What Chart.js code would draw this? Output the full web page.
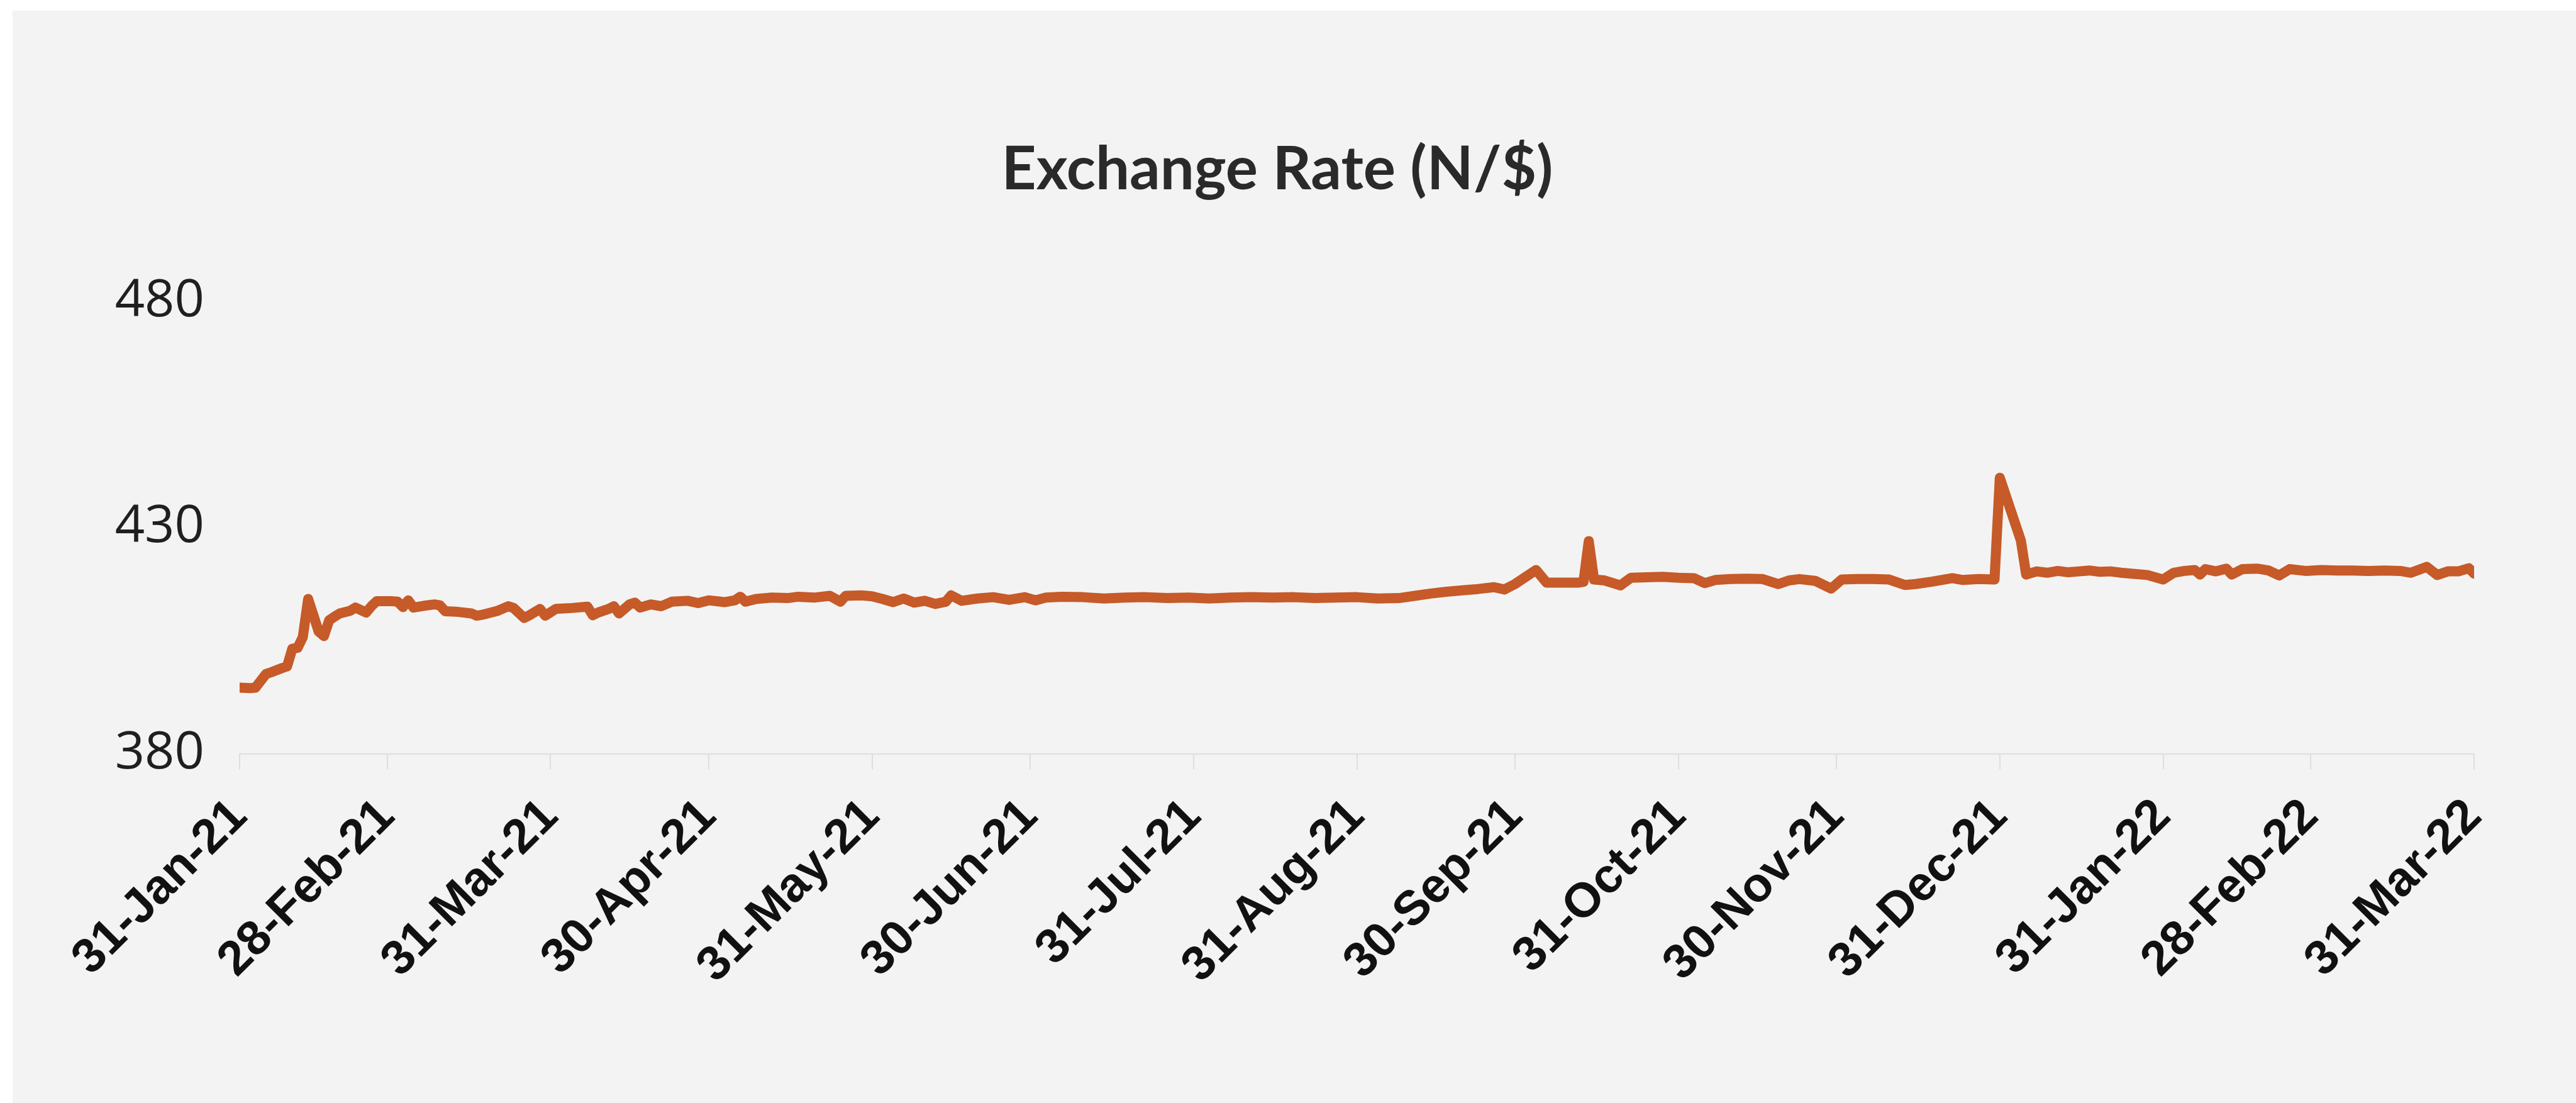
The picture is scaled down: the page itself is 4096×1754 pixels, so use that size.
<!DOCTYPE html>
<html><head><meta charset="utf-8">
<script src="https://cdn.jsdelivr.net/npm/chart.js@4/dist/chart.umd.min.js"></script>
<style>
html,body{margin:0;padding:0;background:#ffffff;overflow:hidden;}
#bg{position:absolute;left:20px;top:17px;width:4076px;height:1737px;background:#f3f3f3;}
#wrap{position:absolute;left:0;top:0;width:4096px;height:1754px;}
</style></head>
<body><div id="bg"></div><div id="wrap"><canvas id="c" width="4096" height="1754"></canvas></div>
<script>
const chartTitle = 'Exchange Rate (N/$)';
const startDate = '2021-01-31';
const tickDates = ['2021-01-31','2021-02-28','2021-03-31','2021-04-30','2021-05-31','2021-06-30','2021-07-31','2021-08-31','2021-09-30','2021-10-31','2021-11-30','2021-12-31','2022-01-31','2022-02-28','2022-03-31'];
const tickLabels = ['31-Jan-21','28-Feb-21','31-Mar-21','30-Apr-21','31-May-21','30-Jun-21','31-Jul-21','31-Aug-21','30-Sep-21','31-Oct-21','30-Nov-21','31-Dec-21','31-Jan-22','28-Feb-22','31-Mar-22'];
const yTicks = [380, 430, 480];

const dates = [
'2021-01-31','2021-02-02','2021-02-03','2021-02-05','2021-02-06','2021-02-08','2021-02-09','2021-02-10','2021-02-11','2021-02-12',
'2021-02-13','2021-02-15','2021-02-16','2021-02-17','2021-02-18','2021-02-19','2021-02-21','2021-02-22','2021-02-24','2021-02-25',
'2021-02-26','2021-03-01','2021-03-02','2021-03-03','2021-03-04','2021-03-05','2021-03-07','2021-03-09','2021-03-10','2021-03-11',
'2021-03-13','2021-03-16','2021-03-17','2021-03-18','2021-03-21','2021-03-23','2021-03-24','2021-03-26','2021-03-27','2021-03-29',
'2021-03-30','2021-04-01','2021-04-04','2021-04-07','2021-04-08','2021-04-09','2021-04-11','2021-04-12','2021-04-13','2021-04-15',
'2021-04-16','2021-04-17','2021-04-19','2021-04-21','2021-04-23','2021-04-26','2021-04-28','2021-04-30','2021-05-03','2021-05-05',
'2021-05-06','2021-05-07','2021-05-09','2021-05-12','2021-05-15','2021-05-17','2021-05-20','2021-05-23','2021-05-25','2021-05-26',
'2021-05-29','2021-05-31','2021-06-02','2021-06-04','2021-06-06','2021-06-08','2021-06-10','2021-06-12','2021-06-14','2021-06-15',
'2021-06-17','2021-06-20','2021-06-23','2021-06-26','2021-06-29','2021-07-01','2021-07-03','2021-07-06','2021-07-10','2021-07-14',
'2021-07-18','2021-07-22','2021-07-26','2021-07-30','2021-08-03','2021-08-07','2021-08-11','2021-08-15','2021-08-19','2021-08-23',
'2021-08-27','2021-08-31','2021-09-04','2021-09-08','2021-09-11','2021-09-14','2021-09-17','2021-09-20','2021-09-23','2021-09-26',
'2021-09-28','2021-09-30','2021-10-04','2021-10-06','2021-10-09','2021-10-12','2021-10-13','2021-10-14','2021-10-15','2021-10-17',
'2021-10-20','2021-10-22','2021-10-25','2021-10-28','2021-10-31','2021-11-03','2021-11-05','2021-11-07','2021-11-10','2021-11-13',
'2021-11-16','2021-11-19','2021-11-21','2021-11-23','2021-11-26','2021-11-29','2021-12-01','2021-12-04','2021-12-07','2021-12-10',
'2021-12-13','2021-12-15','2021-12-18','2021-12-22','2021-12-24','2021-12-27','2021-12-30','2021-12-31','2022-01-04','2022-01-05',
'2022-01-07','2022-01-09','2022-01-11','2022-01-13','2022-01-15','2022-01-17','2022-01-19','2022-01-21','2022-01-23','2022-01-25',
'2022-01-28','2022-01-31','2022-02-02','2022-02-04','2022-02-06','2022-02-07','2022-02-08','2022-02-10','2022-02-12','2022-02-13',
'2022-02-15','2022-02-18','2022-02-20','2022-02-22','2022-02-24','2022-02-27','2022-03-02','2022-03-05','2022-03-08','2022-03-11',
'2022-03-14','2022-03-17','2022-03-19','2022-03-22','2022-03-24','2022-03-26','2022-03-28','2022-03-30','2022-03-31'
];
const rates = [
394.6,394.5,394.6,397.6,398.0,398.9,399.3,403.2,403.4,405.8,
414.2,407.0,406.0,409.5,410.3,411.0,411.6,412.3,411.2,412.6,
413.7,413.7,413.6,412.4,413.9,412.3,412.7,413.0,412.8,411.5,
411.4,411.0,410.5,410.7,411.6,412.6,412.2,410.0,410.6,412.0,
410.5,412.0,412.2,412.5,410.6,411.2,412.0,412.6,411.0,413.0,
413.4,412.3,413.0,412.6,413.6,413.8,413.3,413.9,413.5,413.9,
414.7,413.6,414.2,414.5,414.4,414.7,414.5,414.9,413.6,414.9,
415.0,414.8,414.2,413.5,414.3,413.4,413.8,413.1,413.6,415.0,
413.8,414.3,414.6,414.0,414.6,413.9,414.5,414.7,414.6,414.3,
414.5,414.6,414.4,414.5,414.3,414.5,414.6,414.5,414.6,414.4,
414.5,414.6,414.3,414.4,414.9,415.4,415.8,416.1,416.4,416.8,
416.3,417.5,420.6,417.8,417.8,417.8,418.0,427.0,418.5,418.3,
417.2,418.9,419.0,419.1,418.9,418.8,417.7,418.4,418.6,418.7,
418.6,417.5,418.3,418.6,418.2,416.5,418.5,418.6,418.6,418.5,
417.3,417.5,418.0,418.8,418.4,418.6,418.5,441.0,427.1,419.6,
420.3,420.0,420.4,420.1,420.3,420.5,420.2,420.3,420.0,419.8,
419.5,418.5,420.0,420.4,420.6,419.6,420.8,420.3,420.9,419.6,
420.8,420.9,420.5,419.4,420.8,420.4,420.6,420.5,420.5,420.4,
420.5,420.4,420.0,421.3,419.5,420.3,420.3,421.0,419.8
];

function dayIndex(s){
  const p = s.split('-').map(Number), q = startDate.split('-').map(Number);
  return (Date.UTC(p[0],p[1]-1,p[2]) - Date.UTC(q[0],q[1]-1,q[2]))/86400000;
}
const tickDays = tickDates.map(dayIndex);
const points = dates.map((d,i)=>({x:dayIndex(d), y:rates[i]}));

function draw(){
  new Chart(document.getElementById('c'), {
    type:'line',
    data:{datasets:[{data:points, borderColor:'#C65A28', borderWidth:16, pointRadius:0, tension:0,
      borderJoinStyle:'round', borderCapStyle:'round', fill:false}]},
    options:{
      responsive:false, animation:false, devicePixelRatio:1,
      layout:{padding:{left:128, right:162, top:212, bottom:0}},
      plugins:{
        legend:{display:false}, tooltip:{enabled:false},
        title:{display:true, text:chartTitle, color:'#2a2a2a',
          font:{family:'Lato', weight:'bold', size:96, lineHeight:1.2}, padding:{top:0,bottom:152}}
      },
      scales:{
        x:{type:'linear', min:tickDays[0], max:tickDays[tickDays.length-1],
          afterBuildTicks:s=>{s.ticks = tickDays.map(v=>({value:v}));},
          afterFit:s=>{s.height = 1754 - 1198.5;},
          ticks:{autoSkip:false, minRotation:45, maxRotation:45, padding:30,
            callback:(v,i)=>tickLabels[i], color:'#111111',
            font:{family:'Liberation Sans', weight:'bold', size:77}},
          grid:{display:true, drawOnChartArea:false, drawTicks:true, tickLength:25, color:'#dedede', lineWidth:2},
          border:{display:true, color:'#dedede', width:2}
        },
        y:{min:380, max:480,
          afterBuildTicks:s=>{s.ticks = yTicks.map(v=>({value:v}));},
          afterFit:s=>{s.width = 253;},
          ticks:{padding:56, color:'#1f1f1f', font:{family:'Open Sans', size:83}},
          grid:{display:false, drawTicks:false},
          border:{display:false}
        }
      }
    }
  });
}
Promise.all([
  document.fonts.load('bold 96px Lato'),
  document.fonts.load('83px "Open Sans"'),
  document.fonts.load('bold 77px "Liberation Sans"')
]).then(draw, draw);
</script>
</body></html>
